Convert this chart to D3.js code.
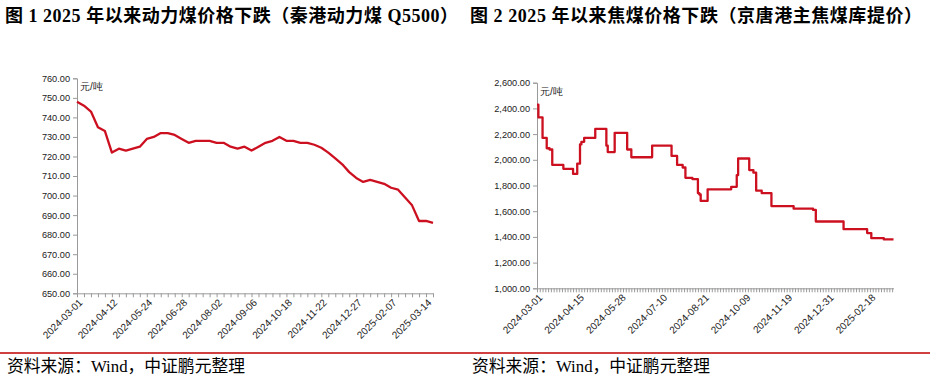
<!DOCTYPE html>
<html>
<head>
<meta charset="utf-8">
<script src="https://cdn.jsdelivr.net/npm/d3@7/dist/d3.min.js"></script>
<style>
  html, body { margin: 0; padding: 0; background: #fff; }
  svg { display: block; }
</style>
</head>
<body>
<svg id="chart" width="930" height="383"></svg>
<script>
// ---------------- DATA ----------------
// Figure 1: Qinhuangdao thermal coal Q5500 (weekly), 元/吨
const thermalTickLabels = ["2024-03-01","2024-04-12","2024-05-24","2024-06-28","2024-08-02","2024-09-06",
  "2024-10-18","2024-11-22","2024-12-27","2025-02-07","2025-03-14"];
const thermalPrice = [748,746,743,735,733,722,724,723,724,725,729,730,732,732,731,729,727,728,728,728,
  727,727,725,724,725,723,725,727,728,730,728,728,727,727,726,724.5,722,719,716,712,709,707,708,707,706,
  704,703,699,695,687,687,686];
const thermalYTicks = [650,660,670,680,690,700,710,720,730,740,750,760];

// Figure 2: Jingtang port main coking coal (daily, working days), 元/吨 — price change points
const cokeTickLabels = ["2024-03-01","2024-04-15","2024-05-28","2024-07-10","2024-08-21","2024-10-09",
  "2024-11-19","2024-12-31","2025-02-18"];
const cokeChangeDay = [0,1,4,7,9,11,19,26,29,31,32,34,42,50,51,56,65,68,83,97,101,105,107,112,116,117,118,
  123,140,144,145,153,156,158,162,169,185,199,201,221,238,241,250,257];
const cokeChangePrice = [2430,2330,2170,2090,2080,1960,1930,1890,1970,2120,2140,2170,2240,2110,2060,2210,
  2080,2020,2110,2030,1960,1940,1860,1850,1740,1730,1680,1770,1790,1880,2010,1920,1900,1760,1740,1640,1620,
  1610,1520,1460,1430,1390,1380,1380];
const cokeYTicks = [1000,1200,1400,1600,1800,2000,2200,2400,2600];
const cokeDaysPerLabel = 30;

const titles = ["图 1 2025 年以来动力煤价格下跌（秦港动力煤 Q5500）",
                "图 2 2025 年以来焦煤价格下跌（京唐港主焦煤库提价）"];
const sourceText = "资料来源：Wind，中证鹏元整理";
const unitText = "元/吨";

// ---------------- DRAW ----------------
const svg = d3.select("#chart");
const lineColor = "#cc1020";
const axisColor = "#9a9a9a";
const labelFont = "'Liberation Sans', Arial, sans-serif";
const titleFont = "'Liberation Serif', 'Noto Sans CJK SC', serif";

// titles
[[5, titles[0], 453], [470, titles[1], 452]].forEach(([x, t, len]) => {
  svg.append("text").attr("x", x).attr("y", 22)
    .attr("font-family", titleFont).attr("font-weight", "bold")
    .attr("font-size", 18).attr("fill", "#000")
    .attr("textLength", len).attr("lengthAdjust", "spacing").text(t);
});

// bottom red rule and sources
svg.append("line").attr("x1", 0).attr("x2", 930).attr("y1", 353).attr("y2", 353)
  .attr("stroke", "#c00000").attr("stroke-width", 1.5);
[[7, sourceText], [472, sourceText]].forEach(([x, t]) => {
  svg.append("text").attr("x", x).attr("y", 372)
    .attr("font-family", titleFont).attr("font-size", 17).attr("fill", "#000")
    .attr("textLength", 238).attr("lengthAdjust", "spacingAndGlyphs").text(t);
});

function styleAxis(g) {
  g.selectAll(".domain").attr("stroke", axisColor);
  g.selectAll(".tick line").attr("stroke", axisColor);
  g.selectAll("text").attr("font-family", labelFont).attr("fill", "#222");
}

// ---- Chart 1 ----
{
  const x = d3.scaleLinear().domain([0, thermalPrice.length - 1]).range([77, 433]);
  const y = d3.scaleLinear().domain([650, 760]).range([293.3, 78.3]);

  const yAxis = d3.axisLeft(y).tickValues(thermalYTicks).tickFormat(d3.format(".2f"))
    .tickSize(4).tickPadding(3);
  const gy = svg.append("g").attr("transform", "translate(77,0)").call(yAxis);
  gy.selectAll("text").attr("font-size", 9.2);
  styleAxis(gy);

  // minor ticks at every category, labels every 5 categories
  const labelIdx = thermalTickLabels.map((d, i) => i * 5);
  const xAxis = d3.axisBottom(x).tickValues(d3.range(0, thermalPrice.length)).tickSize(4)
    .tickSizeOuter(0)
    .tickFormat(i => { const k = labelIdx.indexOf(i); return k >= 0 ? thermalTickLabels[k] : ""; });
  const gx = svg.append("g").attr("transform", "translate(0,293.3)").call(xAxis);
  gx.selectAll("text").attr("font-size", 10).attr("text-anchor", "end")
    .attr("transform", "rotate(-45)").attr("dx", "-0.3em").attr("dy", "0.5em").attr("y", 6).attr("x", 0);
  styleAxis(gx);

  svg.append("text").attr("x", 80).attr("y", 90).attr("font-family", labelFont)
    .attr("font-size", 10).attr("fill", "#222").text(unitText);

  const line = d3.line().x((d, i) => x(i)).y(d => y(d));
  svg.append("path").datum(thermalPrice).attr("d", line)
    .attr("fill", "none").attr("stroke", lineColor).attr("stroke-width", 2.3)
    .attr("stroke-linejoin", "round");
}

// ---- Chart 2 ----
{
  const lastDay = cokeChangeDay[cokeChangeDay.length - 1];
  const x = d3.scaleLinear().domain([0, lastDay]).range([537, 893.5]);
  const y = d3.scaleLinear().domain([1000, 2600]).range([288.3, 82.7]);

  const yAxis = d3.axisLeft(y).tickValues(cokeYTicks).tickFormat(d3.format(",.2f"))
    .tickSize(4).tickPadding(3);
  const gy = svg.append("g").attr("transform", "translate(537,0)").call(yAxis);
  gy.selectAll("text").attr("font-size", 9.2);
  styleAxis(gy);

  const labelDays = cokeTickLabels.map((d, i) => i * cokeDaysPerLabel);
  const xAxis = d3.axisBottom(x).tickValues(d3.range(0, lastDay + 1, 2)).tickSize(4)
    .tickSizeOuter(0)
    .tickFormat(dd => { const k = labelDays.indexOf(dd); return k >= 0 ? cokeTickLabels[k] : ""; });
  const gx = svg.append("g").attr("transform", "translate(0,288.3)").call(xAxis);
  gx.selectAll("text").attr("font-size", 10).attr("text-anchor", "end")
    .attr("transform", "rotate(-45)").attr("dx", "-0.3em").attr("dy", "0.5em").attr("y", 6).attr("x", 0);
  styleAxis(gx);

  svg.append("text").attr("x", 540).attr("y", 95).attr("font-family", labelFont)
    .attr("font-size", 10).attr("fill", "#222").text(unitText);

  const pts = cokeChangeDay.map((d, i) => [d, cokeChangePrice[i]]);
  const line = d3.line().x(d => x(d[0])).y(d => y(d[1])).curve(d3.curveStepAfter);
  svg.append("path").datum(pts).attr("d", line)
    .attr("fill", "none").attr("stroke", lineColor).attr("stroke-width", 2.3)
    .attr("stroke-linejoin", "round");
}
</script>
</body>
</html>
